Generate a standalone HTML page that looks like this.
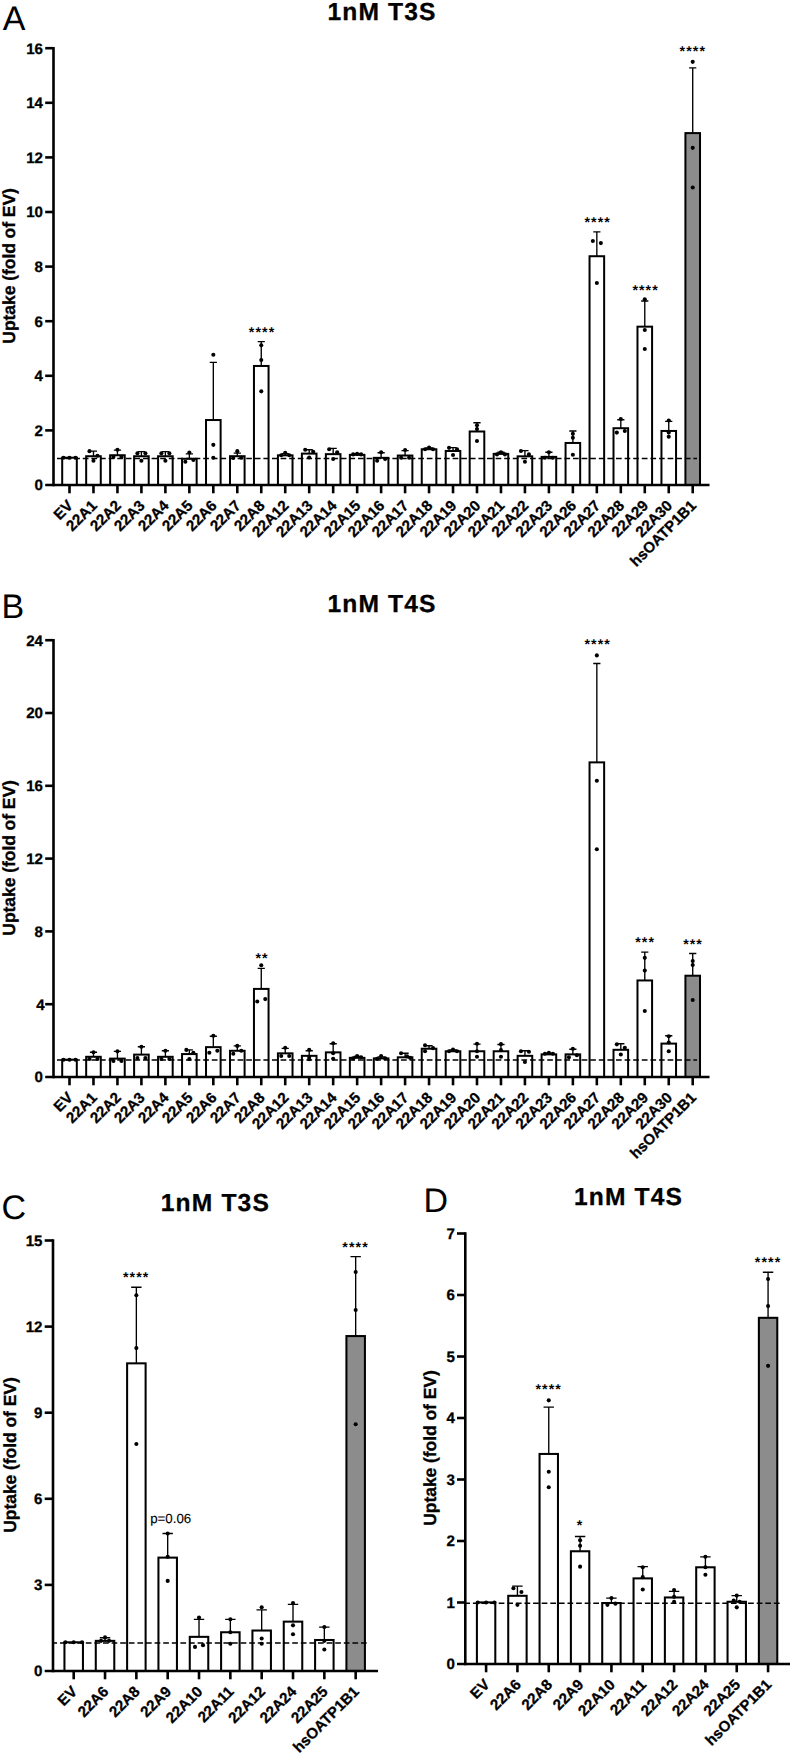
<!DOCTYPE html>
<html lang="en"><head><meta charset="utf-8"><title>Figure</title>
<style>html,body{margin:0;padding:0;background:#fff}body{width:793px;height:1758px;overflow:hidden}svg{display:block}svg text{font-family:"Liberation Sans", Arial, sans-serif;fill:#000;text-rendering:geometricPrecision}.b{font-weight:bold;stroke:#000;stroke-width:.3px}</style></head><body>
<svg width="793" height="1758" viewBox="0 0 793 1758">
<rect width="793" height="1758" fill="#fff"/>
<g>
<rect x="62.2" y="457.7" width="14.6" height="27.3" fill="#fff" stroke="#000" stroke-width="2.0"/>
<rect x="86.17" y="456.23" width="14.6" height="28.77" fill="#fff" stroke="#000" stroke-width="2.0"/>
<path d="M93.47 456.23V451.15M89.87 451.15H97.07" stroke="#000" stroke-width="1.35" fill="none"/>
<rect x="110.14" y="455.24" width="14.6" height="29.76" fill="#fff" stroke="#000" stroke-width="2.0"/>
<path d="M117.44 455.24V450.19M113.84 450.19H121.04" stroke="#000" stroke-width="1.35" fill="none"/>
<rect x="134.11" y="456.23" width="14.6" height="28.77" fill="#fff" stroke="#000" stroke-width="2.0"/>
<path d="M141.41 456.23V451.69M137.81 451.69H145.01" stroke="#000" stroke-width="1.35" fill="none"/>
<rect x="158.08" y="456.23" width="14.6" height="28.77" fill="#fff" stroke="#000" stroke-width="2.0"/>
<path d="M165.38 456.23V451.69M161.78 451.69H168.98" stroke="#000" stroke-width="1.35" fill="none"/>
<rect x="182.05" y="458.79" width="14.6" height="26.21" fill="#fff" stroke="#000" stroke-width="2.0"/>
<path d="M189.35 458.79V453.88M185.75 453.88H192.95" stroke="#000" stroke-width="1.35" fill="none"/>
<rect x="206.02" y="420.03" width="14.6" height="64.97" fill="#fff" stroke="#000" stroke-width="2.0"/>
<path d="M213.32 420.03V362.42M209.72 362.42H216.92" stroke="#000" stroke-width="1.35" fill="none"/>
<rect x="229.99" y="456.2" width="14.6" height="28.8" fill="#fff" stroke="#000" stroke-width="2.0"/>
<path d="M237.29 456.2V453.06M233.69 453.06H240.89" stroke="#000" stroke-width="1.35" fill="none"/>
<rect x="253.96" y="365.97" width="14.6" height="119.03" fill="#fff" stroke="#000" stroke-width="2.0"/>
<path d="M261.26 365.97V341.67M257.66 341.67H264.86" stroke="#000" stroke-width="1.35" fill="none"/>
<rect x="277.93" y="455.32" width="14.6" height="29.68" fill="#fff" stroke="#000" stroke-width="2.0"/>
<path d="M285.23 455.32V453.61M281.63 453.61H288.83" stroke="#000" stroke-width="1.35" fill="none"/>
<rect x="301.9" y="453.61" width="14.6" height="31.39" fill="#fff" stroke="#000" stroke-width="2.0"/>
<path d="M309.2 453.61V449.78M305.6 449.78H312.8" stroke="#000" stroke-width="1.35" fill="none"/>
<rect x="325.87" y="454.15" width="14.6" height="30.85" fill="#fff" stroke="#000" stroke-width="2.0"/>
<path d="M333.17 454.15V448.42M329.57 448.42H336.77" stroke="#000" stroke-width="1.35" fill="none"/>
<rect x="349.84" y="454.83" width="14.6" height="30.17" fill="#fff" stroke="#000" stroke-width="2.0"/>
<path d="M357.14 454.83V453.61M353.54 453.61H360.74" stroke="#000" stroke-width="1.35" fill="none"/>
<rect x="373.81" y="457.84" width="14.6" height="27.16" fill="#fff" stroke="#000" stroke-width="2.0"/>
<path d="M381.11 457.84V452.79M377.51 452.79H384.71" stroke="#000" stroke-width="1.35" fill="none"/>
<rect x="397.78" y="455.52" width="14.6" height="29.48" fill="#fff" stroke="#000" stroke-width="2.0"/>
<path d="M405.08 455.52V450.6M401.48 450.6H408.68" stroke="#000" stroke-width="1.35" fill="none"/>
<rect x="421.75" y="449.24" width="14.6" height="35.76" fill="#fff" stroke="#000" stroke-width="2.0"/>
<path d="M429.05 449.24V447.87M425.45 447.87H432.65" stroke="#000" stroke-width="1.35" fill="none"/>
<rect x="445.72" y="451.01" width="14.6" height="33.99" fill="#fff" stroke="#000" stroke-width="2.0"/>
<path d="M453.02 451.01V447.6M449.42 447.6H456.62" stroke="#000" stroke-width="1.35" fill="none"/>
<rect x="469.69" y="431.49" width="14.6" height="53.51" fill="#fff" stroke="#000" stroke-width="2.0"/>
<path d="M476.99 431.49V422.76M473.39 422.76H480.59" stroke="#000" stroke-width="1.35" fill="none"/>
<rect x="493.66" y="453.88" width="14.6" height="31.12" fill="#fff" stroke="#000" stroke-width="2.0"/>
<path d="M500.96 453.88V452.24M497.36 452.24H504.56" stroke="#000" stroke-width="1.35" fill="none"/>
<rect x="517.63" y="456.33" width="14.6" height="28.67" fill="#fff" stroke="#000" stroke-width="2.0"/>
<path d="M524.93 456.33V450.6M521.33 450.6H528.53" stroke="#000" stroke-width="1.35" fill="none"/>
<rect x="541.6" y="456.88" width="14.6" height="28.12" fill="#fff" stroke="#000" stroke-width="2.0"/>
<path d="M548.9 456.88V452.24M545.3 452.24H552.5" stroke="#000" stroke-width="1.35" fill="none"/>
<rect x="565.57" y="442.96" width="14.6" height="42.04" fill="#fff" stroke="#000" stroke-width="2.0"/>
<path d="M572.87 442.96V430.95M569.27 430.95H576.47" stroke="#000" stroke-width="1.35" fill="none"/>
<rect x="589.54" y="256.23" width="14.6" height="228.77" fill="#fff" stroke="#000" stroke-width="2.0"/>
<path d="M596.84 256.23V231.93M593.24 231.93H600.44" stroke="#000" stroke-width="1.35" fill="none"/>
<rect x="613.51" y="428.22" width="14.6" height="56.78" fill="#fff" stroke="#000" stroke-width="2.0"/>
<path d="M620.81 428.22V419.75M617.21 419.75H624.41" stroke="#000" stroke-width="1.35" fill="none"/>
<rect x="637.48" y="326.66" width="14.6" height="158.34" fill="#fff" stroke="#000" stroke-width="2.0"/>
<path d="M644.78 326.66V301M641.18 301H648.38" stroke="#000" stroke-width="1.35" fill="none"/>
<rect x="661.45" y="430.95" width="14.6" height="54.05" fill="#fff" stroke="#000" stroke-width="2.0"/>
<path d="M668.75 430.95V421.39M665.15 421.39H672.35" stroke="#000" stroke-width="1.35" fill="none"/>
<rect x="685.42" y="133.1" width="14.6" height="351.9" fill="#8c8c8c" stroke="#000" stroke-width="2.0"/>
<path d="M692.72 133.1V67.86M689.12 67.86H696.32" stroke="#000" stroke-width="1.35" fill="none"/>
<line x1="57" y1="458.4" x2="697" y2="458.4" stroke="#000" stroke-width="1.5" stroke-dasharray="5.7 2.9" stroke-dashoffset="0"/>
<circle cx="63.5" cy="457.7" r="2.05"/>
<circle cx="69.5" cy="457.7" r="2.05"/>
<circle cx="75.5" cy="457.7" r="2.05"/>
<circle cx="89.47" cy="451.15" r="2.05"/>
<circle cx="97.47" cy="455.79" r="2.05"/>
<circle cx="93.47" cy="460.7" r="2.05"/>
<circle cx="117.44" cy="449.78" r="2.05"/>
<circle cx="113.44" cy="456.88" r="2.05"/>
<circle cx="121.44" cy="456.88" r="2.05"/>
<circle cx="137.41" cy="453.2" r="2.05"/>
<circle cx="145.41" cy="453.2" r="2.05"/>
<circle cx="141.41" cy="460.7" r="2.05"/>
<circle cx="161.38" cy="453.2" r="2.05"/>
<circle cx="169.38" cy="453.2" r="2.05"/>
<circle cx="165.38" cy="460.7" r="2.05"/>
<circle cx="189.35" cy="452.51" r="2.05"/>
<circle cx="185.35" cy="461.8" r="2.05"/>
<circle cx="193.35" cy="459.88" r="2.05"/>
<circle cx="213.32" cy="354.78" r="2.05"/>
<circle cx="213.32" cy="444.87" r="2.05"/>
<circle cx="213.32" cy="457.7" r="2.05"/>
<circle cx="237.29" cy="451.15" r="2.05"/>
<circle cx="233.29" cy="457.97" r="2.05"/>
<circle cx="241.29" cy="457.7" r="2.05"/>
<circle cx="261.26" cy="345.22" r="2.05"/>
<circle cx="261.26" cy="359.97" r="2.05"/>
<circle cx="261.26" cy="391.36" r="2.05"/>
<circle cx="285.23" cy="452.79" r="2.05"/>
<circle cx="281.23" cy="455.32" r="2.05"/>
<circle cx="289.23" cy="455.32" r="2.05"/>
<circle cx="305.2" cy="449.78" r="2.05"/>
<circle cx="313.2" cy="451.69" r="2.05"/>
<circle cx="309.2" cy="457.43" r="2.05"/>
<circle cx="329.17" cy="449.24" r="2.05"/>
<circle cx="337.17" cy="452.24" r="2.05"/>
<circle cx="333.17" cy="459.06" r="2.05"/>
<circle cx="357.14" cy="453.88" r="2.05"/>
<circle cx="353.14" cy="454.42" r="2.05"/>
<circle cx="361.14" cy="454.42" r="2.05"/>
<circle cx="381.11" cy="452.24" r="2.05"/>
<circle cx="377.11" cy="460.7" r="2.05"/>
<circle cx="385.11" cy="459.06" r="2.05"/>
<circle cx="405.08" cy="450.06" r="2.05"/>
<circle cx="401.08" cy="457.7" r="2.05"/>
<circle cx="409.08" cy="457.7" r="2.05"/>
<circle cx="429.05" cy="447.6" r="2.05"/>
<circle cx="425.05" cy="449.24" r="2.05"/>
<circle cx="433.05" cy="449.24" r="2.05"/>
<circle cx="449.02" cy="447.87" r="2.05"/>
<circle cx="457.02" cy="449.24" r="2.05"/>
<circle cx="453.02" cy="454.97" r="2.05"/>
<circle cx="476.99" cy="425.21" r="2.05"/>
<circle cx="476.99" cy="429.04" r="2.05"/>
<circle cx="476.99" cy="441.05" r="2.05"/>
<circle cx="500.96" cy="452.24" r="2.05"/>
<circle cx="496.96" cy="454.42" r="2.05"/>
<circle cx="504.96" cy="454.42" r="2.05"/>
<circle cx="520.93" cy="451.01" r="2.05"/>
<circle cx="528.93" cy="454.42" r="2.05"/>
<circle cx="524.93" cy="461.8" r="2.05"/>
<circle cx="548.9" cy="452.24" r="2.05"/>
<circle cx="544.9" cy="457.7" r="2.05"/>
<circle cx="552.9" cy="457.7" r="2.05"/>
<circle cx="572.87" cy="433.68" r="2.05"/>
<circle cx="572.87" cy="437.77" r="2.05"/>
<circle cx="572.87" cy="454.7" r="2.05"/>
<circle cx="592.84" cy="240.94" r="2.05"/>
<circle cx="600.84" cy="243.12" r="2.05"/>
<circle cx="596.84" cy="282.98" r="2.05"/>
<circle cx="620.81" cy="418.93" r="2.05"/>
<circle cx="616.81" cy="432.58" r="2.05"/>
<circle cx="624.81" cy="430.95" r="2.05"/>
<circle cx="644.78" cy="299.36" r="2.05"/>
<circle cx="644.78" cy="329.94" r="2.05"/>
<circle cx="644.78" cy="349.05" r="2.05"/>
<circle cx="668.75" cy="420.57" r="2.05"/>
<circle cx="668.75" cy="432.58" r="2.05"/>
<circle cx="668.75" cy="436.68" r="2.05"/>
<circle cx="692.72" cy="61.85" r="2.05"/>
<circle cx="692.72" cy="147.85" r="2.05"/>
<circle cx="692.72" cy="187.43" r="2.05"/>
<path d="M53.5 46.9V486.3" stroke="#000" stroke-width="2.6" fill="none"/>
<path d="M45.2 485H709.5" stroke="#000" stroke-width="2.6" fill="none"/>
<text x="43" y="490.41" text-anchor="end" font-size="15.1" class="b">0</text>
<path d="M45.2 430.4H53.5" stroke="#000" stroke-width="2.6"/>
<text x="43" y="435.81" text-anchor="end" font-size="15.1" class="b">2</text>
<path d="M45.2 375.8H53.5" stroke="#000" stroke-width="2.6"/>
<text x="43" y="381.21" text-anchor="end" font-size="15.1" class="b">4</text>
<path d="M45.2 321.2H53.5" stroke="#000" stroke-width="2.6"/>
<text x="43" y="326.61" text-anchor="end" font-size="15.1" class="b">6</text>
<path d="M45.2 266.6H53.5" stroke="#000" stroke-width="2.6"/>
<text x="43" y="272.01" text-anchor="end" font-size="15.1" class="b">8</text>
<path d="M45.2 212H53.5" stroke="#000" stroke-width="2.6"/>
<text x="43" y="217.41" text-anchor="end" font-size="15.1" class="b">10</text>
<path d="M45.2 157.4H53.5" stroke="#000" stroke-width="2.6"/>
<text x="43" y="162.81" text-anchor="end" font-size="15.1" class="b">12</text>
<path d="M45.2 102.8H53.5" stroke="#000" stroke-width="2.6"/>
<text x="43" y="108.21" text-anchor="end" font-size="15.1" class="b">14</text>
<path d="M45.2 48.2H53.5" stroke="#000" stroke-width="2.6"/>
<text x="43" y="53.61" text-anchor="end" font-size="15.1" class="b">16</text>
<path d="M69.5 485V493.3" stroke="#000" stroke-width="2.6"/>
<text transform="translate(73.9 506.5) rotate(-45)" text-anchor="end" font-size="15.1" class="b">EV</text>
<path d="M93.47 485V493.3" stroke="#000" stroke-width="2.6"/>
<text transform="translate(97.87 506.5) rotate(-45)" text-anchor="end" font-size="15.1" class="b">22A1</text>
<path d="M117.44 485V493.3" stroke="#000" stroke-width="2.6"/>
<text transform="translate(121.84 506.5) rotate(-45)" text-anchor="end" font-size="15.1" class="b">22A2</text>
<path d="M141.41 485V493.3" stroke="#000" stroke-width="2.6"/>
<text transform="translate(145.81 506.5) rotate(-45)" text-anchor="end" font-size="15.1" class="b">22A3</text>
<path d="M165.38 485V493.3" stroke="#000" stroke-width="2.6"/>
<text transform="translate(169.78 506.5) rotate(-45)" text-anchor="end" font-size="15.1" class="b">22A4</text>
<path d="M189.35 485V493.3" stroke="#000" stroke-width="2.6"/>
<text transform="translate(193.75 506.5) rotate(-45)" text-anchor="end" font-size="15.1" class="b">22A5</text>
<path d="M213.32 485V493.3" stroke="#000" stroke-width="2.6"/>
<text transform="translate(217.72 506.5) rotate(-45)" text-anchor="end" font-size="15.1" class="b">22A6</text>
<path d="M237.29 485V493.3" stroke="#000" stroke-width="2.6"/>
<text transform="translate(241.69 506.5) rotate(-45)" text-anchor="end" font-size="15.1" class="b">22A7</text>
<path d="M261.26 485V493.3" stroke="#000" stroke-width="2.6"/>
<text transform="translate(265.66 506.5) rotate(-45)" text-anchor="end" font-size="15.1" class="b">22A8</text>
<path d="M285.23 485V493.3" stroke="#000" stroke-width="2.6"/>
<text transform="translate(289.63 506.5) rotate(-45)" text-anchor="end" font-size="15.1" class="b">22A12</text>
<path d="M309.2 485V493.3" stroke="#000" stroke-width="2.6"/>
<text transform="translate(313.6 506.5) rotate(-45)" text-anchor="end" font-size="15.1" class="b">22A13</text>
<path d="M333.17 485V493.3" stroke="#000" stroke-width="2.6"/>
<text transform="translate(337.57 506.5) rotate(-45)" text-anchor="end" font-size="15.1" class="b">22A14</text>
<path d="M357.14 485V493.3" stroke="#000" stroke-width="2.6"/>
<text transform="translate(361.54 506.5) rotate(-45)" text-anchor="end" font-size="15.1" class="b">22A15</text>
<path d="M381.11 485V493.3" stroke="#000" stroke-width="2.6"/>
<text transform="translate(385.51 506.5) rotate(-45)" text-anchor="end" font-size="15.1" class="b">22A16</text>
<path d="M405.08 485V493.3" stroke="#000" stroke-width="2.6"/>
<text transform="translate(409.48 506.5) rotate(-45)" text-anchor="end" font-size="15.1" class="b">22A17</text>
<path d="M429.05 485V493.3" stroke="#000" stroke-width="2.6"/>
<text transform="translate(433.45 506.5) rotate(-45)" text-anchor="end" font-size="15.1" class="b">22A18</text>
<path d="M453.02 485V493.3" stroke="#000" stroke-width="2.6"/>
<text transform="translate(457.42 506.5) rotate(-45)" text-anchor="end" font-size="15.1" class="b">22A19</text>
<path d="M476.99 485V493.3" stroke="#000" stroke-width="2.6"/>
<text transform="translate(481.39 506.5) rotate(-45)" text-anchor="end" font-size="15.1" class="b">22A20</text>
<path d="M500.96 485V493.3" stroke="#000" stroke-width="2.6"/>
<text transform="translate(505.36 506.5) rotate(-45)" text-anchor="end" font-size="15.1" class="b">22A21</text>
<path d="M524.93 485V493.3" stroke="#000" stroke-width="2.6"/>
<text transform="translate(529.33 506.5) rotate(-45)" text-anchor="end" font-size="15.1" class="b">22A22</text>
<path d="M548.9 485V493.3" stroke="#000" stroke-width="2.6"/>
<text transform="translate(553.3 506.5) rotate(-45)" text-anchor="end" font-size="15.1" class="b">22A23</text>
<path d="M572.87 485V493.3" stroke="#000" stroke-width="2.6"/>
<text transform="translate(577.27 506.5) rotate(-45)" text-anchor="end" font-size="15.1" class="b">22A26</text>
<path d="M596.84 485V493.3" stroke="#000" stroke-width="2.6"/>
<text transform="translate(601.24 506.5) rotate(-45)" text-anchor="end" font-size="15.1" class="b">22A27</text>
<path d="M620.81 485V493.3" stroke="#000" stroke-width="2.6"/>
<text transform="translate(625.21 506.5) rotate(-45)" text-anchor="end" font-size="15.1" class="b">22A28</text>
<path d="M644.78 485V493.3" stroke="#000" stroke-width="2.6"/>
<text transform="translate(649.18 506.5) rotate(-45)" text-anchor="end" font-size="15.1" class="b">22A29</text>
<path d="M668.75 485V493.3" stroke="#000" stroke-width="2.6"/>
<text transform="translate(673.15 506.5) rotate(-45)" text-anchor="end" font-size="15.1" class="b">22A30</text>
<path d="M692.72 485V493.3" stroke="#000" stroke-width="2.6"/>
<text transform="translate(697.12 506.5) rotate(-45)" text-anchor="end" font-size="15.1" class="b">hsOATP1B1</text>
<text transform="translate(15.4 265.85) rotate(-90)" text-anchor="middle" font-size="17.6" class="b" textLength="155.6" lengthAdjust="spacing">Uptake (fold of EV)</text>
<text x="381.5" y="19.8" text-anchor="middle" font-size="24.6" class="b" textLength="108" lengthAdjust="spacing">1nM T3S</text>
<text x="2.8" y="30.1" font-size="34">A</text>
<text x="262.11" y="337.1" text-anchor="middle" font-size="14.2" font-weight="bold" letter-spacing="1.1">****</text>
<text x="597.69" y="226.5" text-anchor="middle" font-size="14.2" font-weight="bold" letter-spacing="1.1">****</text>
<text x="645.63" y="295" text-anchor="middle" font-size="14.2" font-weight="bold" letter-spacing="1.1">****</text>
<text x="692.87" y="56.3" text-anchor="middle" font-size="14.2" font-weight="bold" letter-spacing="1.1">****</text>
</g>
<g>
<rect x="62.2" y="1059.71" width="14.6" height="17.29" fill="#fff" stroke="#000" stroke-width="2.0"/>
<rect x="86.17" y="1056.8" width="14.6" height="20.2" fill="#fff" stroke="#000" stroke-width="2.0"/>
<path d="M93.47 1056.8V1052.25M89.87 1052.25H97.07" stroke="#000" stroke-width="1.35" fill="none"/>
<rect x="110.14" y="1058.62" width="14.6" height="18.38" fill="#fff" stroke="#000" stroke-width="2.0"/>
<path d="M117.44 1058.62V1051.34M113.84 1051.34H121.04" stroke="#000" stroke-width="1.35" fill="none"/>
<rect x="134.11" y="1054.61" width="14.6" height="22.39" fill="#fff" stroke="#000" stroke-width="2.0"/>
<path d="M141.41 1054.61V1046.79M137.81 1046.79H145.01" stroke="#000" stroke-width="1.35" fill="none"/>
<rect x="158.08" y="1056.8" width="14.6" height="20.2" fill="#fff" stroke="#000" stroke-width="2.0"/>
<path d="M165.38 1056.8V1050.79M161.78 1050.79H168.98" stroke="#000" stroke-width="1.35" fill="none"/>
<rect x="182.05" y="1054.07" width="14.6" height="22.93" fill="#fff" stroke="#000" stroke-width="2.0"/>
<path d="M189.35 1054.07V1049.88M185.75 1049.88H192.95" stroke="#000" stroke-width="1.35" fill="none"/>
<rect x="206.02" y="1047.15" width="14.6" height="29.85" fill="#fff" stroke="#000" stroke-width="2.0"/>
<path d="M213.32 1047.15V1036.23M209.72 1036.23H216.92" stroke="#000" stroke-width="1.35" fill="none"/>
<rect x="229.99" y="1050.79" width="14.6" height="26.21" fill="#fff" stroke="#000" stroke-width="2.0"/>
<path d="M237.29 1050.79V1045.88M233.69 1045.88H240.89" stroke="#000" stroke-width="1.35" fill="none"/>
<rect x="253.96" y="988.91" width="14.6" height="88.09" fill="#fff" stroke="#000" stroke-width="2.0"/>
<path d="M261.26 988.91V968.35M257.66 968.35H264.86" stroke="#000" stroke-width="1.35" fill="none"/>
<rect x="277.93" y="1053.34" width="14.6" height="23.66" fill="#fff" stroke="#000" stroke-width="2.0"/>
<path d="M285.23 1053.34V1048.43M281.63 1048.43H288.83" stroke="#000" stroke-width="1.35" fill="none"/>
<rect x="301.9" y="1055.83" width="14.6" height="21.17" fill="#fff" stroke="#000" stroke-width="2.0"/>
<path d="M309.2 1055.83V1050.72M305.6 1050.72H312.8" stroke="#000" stroke-width="1.35" fill="none"/>
<rect x="325.87" y="1052.36" width="14.6" height="24.64" fill="#fff" stroke="#000" stroke-width="2.0"/>
<path d="M333.17 1052.36V1043.79M329.57 1043.79H336.77" stroke="#000" stroke-width="1.35" fill="none"/>
<rect x="349.84" y="1057.84" width="14.6" height="19.16" fill="#fff" stroke="#000" stroke-width="2.0"/>
<path d="M357.14 1057.84V1056.38M353.54 1056.38H360.74" stroke="#000" stroke-width="1.35" fill="none"/>
<rect x="373.81" y="1058.38" width="14.6" height="18.62" fill="#fff" stroke="#000" stroke-width="2.0"/>
<path d="M381.11 1058.38V1056.92M377.51 1056.92H384.71" stroke="#000" stroke-width="1.35" fill="none"/>
<rect x="397.78" y="1057.29" width="14.6" height="19.71" fill="#fff" stroke="#000" stroke-width="2.0"/>
<path d="M405.08 1057.29V1053.28M401.48 1053.28H408.68" stroke="#000" stroke-width="1.35" fill="none"/>
<rect x="421.75" y="1048.71" width="14.6" height="28.29" fill="#fff" stroke="#000" stroke-width="2.0"/>
<path d="M429.05 1048.71V1045.79M425.45 1045.79H432.65" stroke="#000" stroke-width="1.35" fill="none"/>
<rect x="445.72" y="1051.27" width="14.6" height="25.73" fill="#fff" stroke="#000" stroke-width="2.0"/>
<path d="M453.02 1051.27V1049.81M449.42 1049.81H456.62" stroke="#000" stroke-width="1.35" fill="none"/>
<rect x="469.69" y="1051.27" width="14.6" height="25.73" fill="#fff" stroke="#000" stroke-width="2.0"/>
<path d="M476.99 1051.27V1044.15M473.39 1044.15H480.59" stroke="#000" stroke-width="1.35" fill="none"/>
<rect x="493.66" y="1051.27" width="14.6" height="25.73" fill="#fff" stroke="#000" stroke-width="2.0"/>
<path d="M500.96 1051.27V1044.52M497.36 1044.52H504.56" stroke="#000" stroke-width="1.35" fill="none"/>
<rect x="517.63" y="1055.83" width="14.6" height="21.17" fill="#fff" stroke="#000" stroke-width="2.0"/>
<path d="M524.93 1055.83V1050.72M521.33 1050.72H528.53" stroke="#000" stroke-width="1.35" fill="none"/>
<rect x="541.6" y="1054.37" width="14.6" height="22.63" fill="#fff" stroke="#000" stroke-width="2.0"/>
<path d="M548.9 1054.37V1053.28M545.3 1053.28H552.5" stroke="#000" stroke-width="1.35" fill="none"/>
<rect x="565.57" y="1054.37" width="14.6" height="22.63" fill="#fff" stroke="#000" stroke-width="2.0"/>
<path d="M572.87 1054.37V1049.26M569.27 1049.26H576.47" stroke="#000" stroke-width="1.35" fill="none"/>
<rect x="589.54" y="762.37" width="14.6" height="314.63" fill="#fff" stroke="#000" stroke-width="2.0"/>
<path d="M596.84 762.37V663.46M593.24 663.46H600.44" stroke="#000" stroke-width="1.35" fill="none"/>
<rect x="613.51" y="1049.81" width="14.6" height="27.19" fill="#fff" stroke="#000" stroke-width="2.0"/>
<path d="M620.81 1049.81V1043.79M617.21 1043.79H624.41" stroke="#000" stroke-width="1.35" fill="none"/>
<rect x="637.48" y="980.46" width="14.6" height="96.54" fill="#fff" stroke="#000" stroke-width="2.0"/>
<path d="M644.78 980.46V952.17M641.18 952.17H648.38" stroke="#000" stroke-width="1.35" fill="none"/>
<rect x="661.45" y="1043.6" width="14.6" height="33.4" fill="#fff" stroke="#000" stroke-width="2.0"/>
<path d="M668.75 1043.6V1035.76M665.15 1035.76H672.35" stroke="#000" stroke-width="1.35" fill="none"/>
<rect x="685.42" y="975.71" width="14.6" height="101.29" fill="#8c8c8c" stroke="#000" stroke-width="2.0"/>
<path d="M692.72 975.71V953.45M689.12 953.45H696.32" stroke="#000" stroke-width="1.35" fill="none"/>
<line x1="57" y1="1060" x2="697" y2="1060" stroke="#000" stroke-width="1.5" stroke-dasharray="5.7 2.9" stroke-dashoffset="0"/>
<circle cx="63.5" cy="1059.71" r="2.05"/>
<circle cx="69.5" cy="1059.71" r="2.05"/>
<circle cx="75.5" cy="1059.71" r="2.05"/>
<circle cx="93.47" cy="1052.25" r="2.05"/>
<circle cx="89.47" cy="1058.98" r="2.05"/>
<circle cx="97.47" cy="1058.98" r="2.05"/>
<circle cx="117.44" cy="1051.34" r="2.05"/>
<circle cx="113.44" cy="1060.98" r="2.05"/>
<circle cx="121.44" cy="1060.98" r="2.05"/>
<circle cx="141.41" cy="1046.79" r="2.05"/>
<circle cx="137.41" cy="1058.07" r="2.05"/>
<circle cx="145.41" cy="1058.07" r="2.05"/>
<circle cx="165.38" cy="1050.79" r="2.05"/>
<circle cx="161.38" cy="1058.98" r="2.05"/>
<circle cx="169.38" cy="1058.98" r="2.05"/>
<circle cx="186.35" cy="1049.88" r="2.05"/>
<circle cx="193.35" cy="1052.79" r="2.05"/>
<circle cx="189.35" cy="1058.98" r="2.05"/>
<circle cx="213.32" cy="1035.69" r="2.05"/>
<circle cx="209.32" cy="1052.79" r="2.05"/>
<circle cx="217.32" cy="1050.79" r="2.05"/>
<circle cx="237.29" cy="1045.88" r="2.05"/>
<circle cx="233.29" cy="1053.7" r="2.05"/>
<circle cx="241.29" cy="1050.79" r="2.05"/>
<circle cx="261.26" cy="965.25" r="2.05"/>
<circle cx="257.26" cy="1001.47" r="2.05"/>
<circle cx="265.26" cy="999.1" r="2.05"/>
<circle cx="285.23" cy="1047.7" r="2.05"/>
<circle cx="281.23" cy="1056.07" r="2.05"/>
<circle cx="289.23" cy="1056.07" r="2.05"/>
<circle cx="309.2" cy="1049.81" r="2.05"/>
<circle cx="309.2" cy="1056.92" r="2.05"/>
<circle cx="309.2" cy="1059.3" r="2.05"/>
<circle cx="333.17" cy="1043.24" r="2.05"/>
<circle cx="333.17" cy="1053.28" r="2.05"/>
<circle cx="333.17" cy="1058.75" r="2.05"/>
<circle cx="357.14" cy="1056.01" r="2.05"/>
<circle cx="353.14" cy="1058.38" r="2.05"/>
<circle cx="361.14" cy="1057.29" r="2.05"/>
<circle cx="381.11" cy="1056.01" r="2.05"/>
<circle cx="377.11" cy="1058.75" r="2.05"/>
<circle cx="385.11" cy="1058.2" r="2.05"/>
<circle cx="401.08" cy="1053.28" r="2.05"/>
<circle cx="407.08" cy="1056.38" r="2.05"/>
<circle cx="410.08" cy="1057.84" r="2.05"/>
<circle cx="425.05" cy="1045.24" r="2.05"/>
<circle cx="433.05" cy="1048.16" r="2.05"/>
<circle cx="425.05" cy="1051.27" r="2.05"/>
<circle cx="453.02" cy="1049.62" r="2.05"/>
<circle cx="449.02" cy="1051.27" r="2.05"/>
<circle cx="457.02" cy="1051.27" r="2.05"/>
<circle cx="476.99" cy="1043.79" r="2.05"/>
<circle cx="476.99" cy="1051.27" r="2.05"/>
<circle cx="476.99" cy="1056.74" r="2.05"/>
<circle cx="500.96" cy="1044.15" r="2.05"/>
<circle cx="500.96" cy="1050.17" r="2.05"/>
<circle cx="500.96" cy="1056.74" r="2.05"/>
<circle cx="520.93" cy="1051.27" r="2.05"/>
<circle cx="528.93" cy="1051.82" r="2.05"/>
<circle cx="524.93" cy="1062.04" r="2.05"/>
<circle cx="548.9" cy="1052.91" r="2.05"/>
<circle cx="544.9" cy="1053.82" r="2.05"/>
<circle cx="552.9" cy="1053.82" r="2.05"/>
<circle cx="572.87" cy="1048.71" r="2.05"/>
<circle cx="568.87" cy="1057.29" r="2.05"/>
<circle cx="576.87" cy="1055.28" r="2.05"/>
<circle cx="596.84" cy="655.42" r="2.05"/>
<circle cx="596.84" cy="780.8" r="2.05"/>
<circle cx="596.84" cy="849.24" r="2.05"/>
<circle cx="616.81" cy="1044.33" r="2.05"/>
<circle cx="624.81" cy="1047.8" r="2.05"/>
<circle cx="620.81" cy="1054.55" r="2.05"/>
<circle cx="644.78" cy="957.83" r="2.05"/>
<circle cx="644.78" cy="970.6" r="2.05"/>
<circle cx="644.78" cy="1010.93" r="2.05"/>
<circle cx="668.75" cy="1036.3" r="2.05"/>
<circle cx="668.75" cy="1042.51" r="2.05"/>
<circle cx="668.75" cy="1051.27" r="2.05"/>
<circle cx="692.72" cy="960.93" r="2.05"/>
<circle cx="692.72" cy="964.95" r="2.05"/>
<circle cx="692.72" cy="999.99" r="2.05"/>
<path d="M53.5 638.9V1078.3" stroke="#000" stroke-width="2.6" fill="none"/>
<path d="M45.2 1077H709.5" stroke="#000" stroke-width="2.6" fill="none"/>
<text x="43" y="1082.41" text-anchor="end" font-size="15.1" class="b">0</text>
<path d="M45.2 1004.2H53.5" stroke="#000" stroke-width="2.6"/>
<text x="44.7" y="1009.61" text-anchor="end" font-size="15.1" class="b">4</text>
<path d="M45.2 931.4H53.5" stroke="#000" stroke-width="2.6"/>
<text x="43" y="936.81" text-anchor="end" font-size="15.1" class="b">8</text>
<path d="M45.2 858.6H53.5" stroke="#000" stroke-width="2.6"/>
<text x="43" y="864.01" text-anchor="end" font-size="15.1" class="b">12</text>
<path d="M45.2 785.8H53.5" stroke="#000" stroke-width="2.6"/>
<text x="43" y="791.21" text-anchor="end" font-size="15.1" class="b">16</text>
<path d="M45.2 713H53.5" stroke="#000" stroke-width="2.6"/>
<text x="43" y="718.41" text-anchor="end" font-size="15.1" class="b">20</text>
<path d="M45.2 640.2H53.5" stroke="#000" stroke-width="2.6"/>
<text x="43" y="645.61" text-anchor="end" font-size="15.1" class="b">24</text>
<path d="M69.5 1077V1085.3" stroke="#000" stroke-width="2.6"/>
<text transform="translate(73.9 1098.5) rotate(-45)" text-anchor="end" font-size="15.1" class="b">EV</text>
<path d="M93.47 1077V1085.3" stroke="#000" stroke-width="2.6"/>
<text transform="translate(97.87 1098.5) rotate(-45)" text-anchor="end" font-size="15.1" class="b">22A1</text>
<path d="M117.44 1077V1085.3" stroke="#000" stroke-width="2.6"/>
<text transform="translate(121.84 1098.5) rotate(-45)" text-anchor="end" font-size="15.1" class="b">22A2</text>
<path d="M141.41 1077V1085.3" stroke="#000" stroke-width="2.6"/>
<text transform="translate(145.81 1098.5) rotate(-45)" text-anchor="end" font-size="15.1" class="b">22A3</text>
<path d="M165.38 1077V1085.3" stroke="#000" stroke-width="2.6"/>
<text transform="translate(169.78 1098.5) rotate(-45)" text-anchor="end" font-size="15.1" class="b">22A4</text>
<path d="M189.35 1077V1085.3" stroke="#000" stroke-width="2.6"/>
<text transform="translate(193.75 1098.5) rotate(-45)" text-anchor="end" font-size="15.1" class="b">22A5</text>
<path d="M213.32 1077V1085.3" stroke="#000" stroke-width="2.6"/>
<text transform="translate(217.72 1098.5) rotate(-45)" text-anchor="end" font-size="15.1" class="b">22A6</text>
<path d="M237.29 1077V1085.3" stroke="#000" stroke-width="2.6"/>
<text transform="translate(241.69 1098.5) rotate(-45)" text-anchor="end" font-size="15.1" class="b">22A7</text>
<path d="M261.26 1077V1085.3" stroke="#000" stroke-width="2.6"/>
<text transform="translate(265.66 1098.5) rotate(-45)" text-anchor="end" font-size="15.1" class="b">22A8</text>
<path d="M285.23 1077V1085.3" stroke="#000" stroke-width="2.6"/>
<text transform="translate(289.63 1098.5) rotate(-45)" text-anchor="end" font-size="15.1" class="b">22A12</text>
<path d="M309.2 1077V1085.3" stroke="#000" stroke-width="2.6"/>
<text transform="translate(313.6 1098.5) rotate(-45)" text-anchor="end" font-size="15.1" class="b">22A13</text>
<path d="M333.17 1077V1085.3" stroke="#000" stroke-width="2.6"/>
<text transform="translate(337.57 1098.5) rotate(-45)" text-anchor="end" font-size="15.1" class="b">22A14</text>
<path d="M357.14 1077V1085.3" stroke="#000" stroke-width="2.6"/>
<text transform="translate(361.54 1098.5) rotate(-45)" text-anchor="end" font-size="15.1" class="b">22A15</text>
<path d="M381.11 1077V1085.3" stroke="#000" stroke-width="2.6"/>
<text transform="translate(385.51 1098.5) rotate(-45)" text-anchor="end" font-size="15.1" class="b">22A16</text>
<path d="M405.08 1077V1085.3" stroke="#000" stroke-width="2.6"/>
<text transform="translate(409.48 1098.5) rotate(-45)" text-anchor="end" font-size="15.1" class="b">22A17</text>
<path d="M429.05 1077V1085.3" stroke="#000" stroke-width="2.6"/>
<text transform="translate(433.45 1098.5) rotate(-45)" text-anchor="end" font-size="15.1" class="b">22A18</text>
<path d="M453.02 1077V1085.3" stroke="#000" stroke-width="2.6"/>
<text transform="translate(457.42 1098.5) rotate(-45)" text-anchor="end" font-size="15.1" class="b">22A19</text>
<path d="M476.99 1077V1085.3" stroke="#000" stroke-width="2.6"/>
<text transform="translate(481.39 1098.5) rotate(-45)" text-anchor="end" font-size="15.1" class="b">22A20</text>
<path d="M500.96 1077V1085.3" stroke="#000" stroke-width="2.6"/>
<text transform="translate(505.36 1098.5) rotate(-45)" text-anchor="end" font-size="15.1" class="b">22A21</text>
<path d="M524.93 1077V1085.3" stroke="#000" stroke-width="2.6"/>
<text transform="translate(529.33 1098.5) rotate(-45)" text-anchor="end" font-size="15.1" class="b">22A22</text>
<path d="M548.9 1077V1085.3" stroke="#000" stroke-width="2.6"/>
<text transform="translate(553.3 1098.5) rotate(-45)" text-anchor="end" font-size="15.1" class="b">22A23</text>
<path d="M572.87 1077V1085.3" stroke="#000" stroke-width="2.6"/>
<text transform="translate(577.27 1098.5) rotate(-45)" text-anchor="end" font-size="15.1" class="b">22A26</text>
<path d="M596.84 1077V1085.3" stroke="#000" stroke-width="2.6"/>
<text transform="translate(601.24 1098.5) rotate(-45)" text-anchor="end" font-size="15.1" class="b">22A27</text>
<path d="M620.81 1077V1085.3" stroke="#000" stroke-width="2.6"/>
<text transform="translate(625.21 1098.5) rotate(-45)" text-anchor="end" font-size="15.1" class="b">22A28</text>
<path d="M644.78 1077V1085.3" stroke="#000" stroke-width="2.6"/>
<text transform="translate(649.18 1098.5) rotate(-45)" text-anchor="end" font-size="15.1" class="b">22A29</text>
<path d="M668.75 1077V1085.3" stroke="#000" stroke-width="2.6"/>
<text transform="translate(673.15 1098.5) rotate(-45)" text-anchor="end" font-size="15.1" class="b">22A30</text>
<path d="M692.72 1077V1085.3" stroke="#000" stroke-width="2.6"/>
<text transform="translate(697.12 1098.5) rotate(-45)" text-anchor="end" font-size="15.1" class="b">hsOATP1B1</text>
<text transform="translate(15.4 857.85) rotate(-90)" text-anchor="middle" font-size="17.6" class="b" textLength="155.6" lengthAdjust="spacing">Uptake (fold of EV)</text>
<text x="381.5" y="612" text-anchor="middle" font-size="24.6" class="b" textLength="108" lengthAdjust="spacing">1nM T4S</text>
<text x="1.5" y="617.8" font-size="34">B</text>
<text x="262.11" y="963.1" text-anchor="middle" font-size="14.2" font-weight="bold" letter-spacing="1.1">**</text>
<text x="597.69" y="648.5" text-anchor="middle" font-size="14.2" font-weight="bold" letter-spacing="1.1">****</text>
<text x="645.13" y="947.3" text-anchor="middle" font-size="14.2" font-weight="bold" letter-spacing="1.1">***</text>
<text x="693.07" y="948.6" text-anchor="middle" font-size="14.2" font-weight="bold" letter-spacing="1.1">***</text>
</g>
<g>
<rect x="64.45" y="1642.3" width="18.5" height="28.7" fill="#fff" stroke="#000" stroke-width="2.05"/>
<rect x="95.78" y="1640.87" width="18.5" height="30.13" fill="#fff" stroke="#000" stroke-width="2.05"/>
<path d="M105.03 1640.87V1637.71M99.83 1637.71H110.23" stroke="#000" stroke-width="1.35" fill="none"/>
<rect x="127.11" y="1363.34" width="18.5" height="307.66" fill="#fff" stroke="#000" stroke-width="2.05"/>
<path d="M136.36 1363.34V1287.28M131.16 1287.28H141.56" stroke="#000" stroke-width="1.35" fill="none"/>
<rect x="158.44" y="1557.63" width="18.5" height="113.37" fill="#fff" stroke="#000" stroke-width="2.05"/>
<path d="M167.69 1557.63V1533.53M162.49 1533.53H172.89" stroke="#000" stroke-width="1.35" fill="none"/>
<rect x="189.77" y="1636.85" width="18.5" height="34.15" fill="#fff" stroke="#000" stroke-width="2.05"/>
<path d="M199.02 1636.85V1619.34M193.82 1619.34H204.22" stroke="#000" stroke-width="1.35" fill="none"/>
<rect x="221.1" y="1632.26" width="18.5" height="38.74" fill="#fff" stroke="#000" stroke-width="2.05"/>
<path d="M230.35 1632.26V1619.34M225.15 1619.34H235.55" stroke="#000" stroke-width="1.35" fill="none"/>
<rect x="252.43" y="1630.53" width="18.5" height="40.47" fill="#fff" stroke="#000" stroke-width="2.05"/>
<path d="M261.68 1630.53V1609.87M256.48 1609.87H266.88" stroke="#000" stroke-width="1.35" fill="none"/>
<rect x="283.76" y="1621.64" width="18.5" height="49.36" fill="#fff" stroke="#000" stroke-width="2.05"/>
<path d="M293.01 1621.64V1604.42M287.81 1604.42H298.21" stroke="#000" stroke-width="1.35" fill="none"/>
<rect x="315.09" y="1640" width="18.5" height="31" fill="#fff" stroke="#000" stroke-width="2.05"/>
<path d="M324.34 1640V1627.09M319.14 1627.09H329.54" stroke="#000" stroke-width="1.35" fill="none"/>
<rect x="346.42" y="1336.07" width="18.5" height="334.93" fill="#8c8c8c" stroke="#000" stroke-width="2.05"/>
<path d="M355.67 1336.07V1256.57M350.47 1256.57H360.87" stroke="#000" stroke-width="1.35" fill="none"/>
<line x1="54" y1="1643" x2="369" y2="1643" stroke="#000" stroke-width="1.5" stroke-dasharray="5.7 2.9" stroke-dashoffset="2.6"/>
<circle cx="65.4" cy="1642.3" r="2.05"/>
<circle cx="73.7" cy="1642.3" r="2.05"/>
<circle cx="82" cy="1642.3" r="2.05"/>
<circle cx="105.03" cy="1637.42" r="2.05"/>
<circle cx="101.03" cy="1640.87" r="2.05"/>
<circle cx="109.03" cy="1640.87" r="2.05"/>
<circle cx="136.36" cy="1295.32" r="2.05"/>
<circle cx="136.36" cy="1348.12" r="2.05"/>
<circle cx="136.36" cy="1443.98" r="2.05"/>
<circle cx="167.69" cy="1533.53" r="2.05"/>
<circle cx="167.69" cy="1556.77" r="2.05"/>
<circle cx="167.69" cy="1580.88" r="2.05"/>
<circle cx="199.02" cy="1617.62" r="2.05"/>
<circle cx="195.02" cy="1646.89" r="2.05"/>
<circle cx="203.02" cy="1645.17" r="2.05"/>
<circle cx="230.35" cy="1619.34" r="2.05"/>
<circle cx="230.35" cy="1632.26" r="2.05"/>
<circle cx="230.35" cy="1643.73" r="2.05"/>
<circle cx="261.68" cy="1607.29" r="2.05"/>
<circle cx="261.68" cy="1638.57" r="2.05"/>
<circle cx="261.68" cy="1643.73" r="2.05"/>
<circle cx="293.01" cy="1602.98" r="2.05"/>
<circle cx="293.01" cy="1625.37" r="2.05"/>
<circle cx="293.01" cy="1634.26" r="2.05"/>
<circle cx="324.34" cy="1627.09" r="2.05"/>
<circle cx="324.34" cy="1640.87" r="2.05"/>
<circle cx="324.34" cy="1649.47" r="2.05"/>
<circle cx="355.67" cy="1272.07" r="2.05"/>
<circle cx="355.67" cy="1309.95" r="2.05"/>
<circle cx="355.67" cy="1424.18" r="2.05"/>
<path d="M53 1239.2V1672.3" stroke="#000" stroke-width="2.6" fill="none"/>
<path d="M44.7 1671H378" stroke="#000" stroke-width="2.6" fill="none"/>
<text x="42.5" y="1676.41" text-anchor="end" font-size="15.1" class="b">0</text>
<path d="M44.7 1584.9H53" stroke="#000" stroke-width="2.6"/>
<text x="42.5" y="1590.31" text-anchor="end" font-size="15.1" class="b">3</text>
<path d="M44.7 1498.8H53" stroke="#000" stroke-width="2.6"/>
<text x="42.5" y="1504.21" text-anchor="end" font-size="15.1" class="b">6</text>
<path d="M44.7 1412.7H53" stroke="#000" stroke-width="2.6"/>
<text x="42.5" y="1418.11" text-anchor="end" font-size="15.1" class="b">9</text>
<path d="M44.7 1326.6H53" stroke="#000" stroke-width="2.6"/>
<text x="42.5" y="1332.01" text-anchor="end" font-size="15.1" class="b">12</text>
<path d="M44.7 1240.5H53" stroke="#000" stroke-width="2.6"/>
<text x="42.5" y="1245.91" text-anchor="end" font-size="15.1" class="b">15</text>
<path d="M73.7 1671V1679.3" stroke="#000" stroke-width="2.6"/>
<text transform="translate(78.1 1692.5) rotate(-45)" text-anchor="end" font-size="15.1" class="b">EV</text>
<path d="M105.03 1671V1679.3" stroke="#000" stroke-width="2.6"/>
<text transform="translate(109.43 1692.5) rotate(-45)" text-anchor="end" font-size="15.1" class="b">22A6</text>
<path d="M136.36 1671V1679.3" stroke="#000" stroke-width="2.6"/>
<text transform="translate(140.76 1692.5) rotate(-45)" text-anchor="end" font-size="15.1" class="b">22A8</text>
<path d="M167.69 1671V1679.3" stroke="#000" stroke-width="2.6"/>
<text transform="translate(172.09 1692.5) rotate(-45)" text-anchor="end" font-size="15.1" class="b">22A9</text>
<path d="M199.02 1671V1679.3" stroke="#000" stroke-width="2.6"/>
<text transform="translate(203.42 1692.5) rotate(-45)" text-anchor="end" font-size="15.1" class="b">22A10</text>
<path d="M230.35 1671V1679.3" stroke="#000" stroke-width="2.6"/>
<text transform="translate(234.75 1692.5) rotate(-45)" text-anchor="end" font-size="15.1" class="b">22A11</text>
<path d="M261.68 1671V1679.3" stroke="#000" stroke-width="2.6"/>
<text transform="translate(266.08 1692.5) rotate(-45)" text-anchor="end" font-size="15.1" class="b">22A12</text>
<path d="M293.01 1671V1679.3" stroke="#000" stroke-width="2.6"/>
<text transform="translate(297.41 1692.5) rotate(-45)" text-anchor="end" font-size="15.1" class="b">22A24</text>
<path d="M324.34 1671V1679.3" stroke="#000" stroke-width="2.6"/>
<text transform="translate(328.74 1692.5) rotate(-45)" text-anchor="end" font-size="15.1" class="b">22A25</text>
<path d="M355.67 1671V1679.3" stroke="#000" stroke-width="2.6"/>
<text transform="translate(360.07 1692.5) rotate(-45)" text-anchor="end" font-size="15.1" class="b">hsOATP1B1</text>
<text transform="translate(15.9 1455) rotate(-90)" text-anchor="middle" font-size="17.6" class="b" textLength="155.6" lengthAdjust="spacing">Uptake (fold of EV)</text>
<text x="214.8" y="1211.4" text-anchor="middle" font-size="24.6" class="b" textLength="108" lengthAdjust="spacing">1nM T3S</text>
<text x="1.5" y="1219.4" font-size="34">C</text>
<text x="136.21" y="1281.5" text-anchor="middle" font-size="14.2" font-weight="bold" letter-spacing="1.1">****</text>
<text x="170.69" y="1523.3" text-anchor="middle" font-size="13.3" stroke="#000" stroke-width=".12">p=0.06</text>
<text x="355.52" y="1251.5" text-anchor="middle" font-size="14.2" font-weight="bold" letter-spacing="1.1">****</text>
</g>
<g>
<rect x="476.9" y="1602.4" width="18.4" height="61.6" fill="#fff" stroke="#000" stroke-width="2.05"/>
<rect x="508.23" y="1595.81" width="18.4" height="68.19" fill="#fff" stroke="#000" stroke-width="2.05"/>
<path d="M517.43 1595.81V1586.14M512.23 1586.14H522.63" stroke="#000" stroke-width="1.35" fill="none"/>
<rect x="539.56" y="1453.94" width="18.4" height="210.06" fill="#fff" stroke="#000" stroke-width="2.05"/>
<path d="M548.76 1453.94V1407.13M543.56 1407.13H553.96" stroke="#000" stroke-width="1.35" fill="none"/>
<rect x="570.89" y="1551.27" width="18.4" height="112.73" fill="#fff" stroke="#000" stroke-width="2.05"/>
<path d="M580.09 1551.27V1536.49M574.89 1536.49H585.29" stroke="#000" stroke-width="1.35" fill="none"/>
<rect x="602.22" y="1603.02" width="18.4" height="60.98" fill="#fff" stroke="#000" stroke-width="2.05"/>
<path d="M611.42 1603.02V1598.09M606.22 1598.09H616.62" stroke="#000" stroke-width="1.35" fill="none"/>
<rect x="633.55" y="1578.38" width="18.4" height="85.62" fill="#fff" stroke="#000" stroke-width="2.05"/>
<path d="M642.75 1578.38V1566.67M637.55 1566.67H647.95" stroke="#000" stroke-width="1.35" fill="none"/>
<rect x="664.88" y="1597.47" width="18.4" height="66.53" fill="#fff" stroke="#000" stroke-width="2.05"/>
<path d="M674.08 1597.47V1591.31M668.88 1591.31H679.28" stroke="#000" stroke-width="1.35" fill="none"/>
<rect x="696.21" y="1567.29" width="18.4" height="96.71" fill="#fff" stroke="#000" stroke-width="2.05"/>
<path d="M705.41 1567.29V1556.82M700.21 1556.82H710.61" stroke="#000" stroke-width="1.35" fill="none"/>
<rect x="727.54" y="1601.78" width="18.4" height="62.22" fill="#fff" stroke="#000" stroke-width="2.05"/>
<path d="M736.74 1601.78V1595.62M731.54 1595.62H741.94" stroke="#000" stroke-width="1.35" fill="none"/>
<rect x="758.87" y="1317.81" width="18.4" height="346.19" fill="#8c8c8c" stroke="#000" stroke-width="2.05"/>
<path d="M768.07 1317.81V1272.22M762.87 1272.22H773.27" stroke="#000" stroke-width="1.35" fill="none"/>
<line x1="466" y1="1603.2" x2="782" y2="1603.2" stroke="#000" stroke-width="1.5" stroke-dasharray="5.7 2.9" stroke-dashoffset="1.7"/>
<circle cx="477.8" cy="1602.5" r="2.05"/>
<circle cx="486.1" cy="1602.5" r="2.05"/>
<circle cx="494.4" cy="1602.5" r="2.05"/>
<circle cx="513.43" cy="1588.23" r="2.05"/>
<circle cx="521.43" cy="1591.93" r="2.05"/>
<circle cx="517.43" cy="1604.86" r="2.05"/>
<circle cx="548.76" cy="1400.35" r="2.05"/>
<circle cx="548.76" cy="1471.81" r="2.05"/>
<circle cx="548.76" cy="1487.21" r="2.05"/>
<circle cx="580.09" cy="1540.18" r="2.05"/>
<circle cx="580.09" cy="1545.73" r="2.05"/>
<circle cx="580.09" cy="1566.67" r="2.05"/>
<circle cx="611.42" cy="1598.09" r="2.05"/>
<circle cx="607.42" cy="1604.86" r="2.05"/>
<circle cx="615.42" cy="1603.63" r="2.05"/>
<circle cx="642.75" cy="1567.29" r="2.05"/>
<circle cx="642.75" cy="1577.14" r="2.05"/>
<circle cx="642.75" cy="1589.46" r="2.05"/>
<circle cx="674.08" cy="1590.08" r="2.05"/>
<circle cx="674.08" cy="1596.86" r="2.05"/>
<circle cx="674.08" cy="1601.78" r="2.05"/>
<circle cx="705.41" cy="1556.82" r="2.05"/>
<circle cx="705.41" cy="1567.29" r="2.05"/>
<circle cx="705.41" cy="1574.68" r="2.05"/>
<circle cx="736.74" cy="1595.62" r="2.05"/>
<circle cx="733.74" cy="1600.55" r="2.05"/>
<circle cx="739.74" cy="1601.78" r="2.05"/>
<circle cx="736.74" cy="1607.33" r="2.05"/>
<circle cx="768.07" cy="1279" r="2.05"/>
<circle cx="768.07" cy="1306.1" r="2.05"/>
<circle cx="768.07" cy="1365.86" r="2.05"/>
<path d="M465.3 1232.2V1665.3" stroke="#000" stroke-width="2.6" fill="none"/>
<path d="M457 1664H790" stroke="#000" stroke-width="2.6" fill="none"/>
<text x="454.8" y="1669.41" text-anchor="end" font-size="15.1" class="b">0</text>
<path d="M457 1602.5H465.3" stroke="#000" stroke-width="2.6"/>
<text x="454.8" y="1607.91" text-anchor="end" font-size="15.1" class="b">1</text>
<path d="M457 1541H465.3" stroke="#000" stroke-width="2.6"/>
<text x="454.8" y="1546.41" text-anchor="end" font-size="15.1" class="b">2</text>
<path d="M457 1479.5H465.3" stroke="#000" stroke-width="2.6"/>
<text x="454.8" y="1484.91" text-anchor="end" font-size="15.1" class="b">3</text>
<path d="M457 1418H465.3" stroke="#000" stroke-width="2.6"/>
<text x="454.8" y="1423.41" text-anchor="end" font-size="15.1" class="b">4</text>
<path d="M457 1356.5H465.3" stroke="#000" stroke-width="2.6"/>
<text x="454.8" y="1361.91" text-anchor="end" font-size="15.1" class="b">5</text>
<path d="M457 1295H465.3" stroke="#000" stroke-width="2.6"/>
<text x="454.8" y="1300.41" text-anchor="end" font-size="15.1" class="b">6</text>
<path d="M457 1233.5H465.3" stroke="#000" stroke-width="2.6"/>
<text x="454.8" y="1238.91" text-anchor="end" font-size="15.1" class="b">7</text>
<path d="M486.1 1664V1672.3" stroke="#000" stroke-width="2.6"/>
<text transform="translate(490.5 1685.5) rotate(-45)" text-anchor="end" font-size="15.1" class="b">EV</text>
<path d="M517.43 1664V1672.3" stroke="#000" stroke-width="2.6"/>
<text transform="translate(521.83 1685.5) rotate(-45)" text-anchor="end" font-size="15.1" class="b">22A6</text>
<path d="M548.76 1664V1672.3" stroke="#000" stroke-width="2.6"/>
<text transform="translate(553.16 1685.5) rotate(-45)" text-anchor="end" font-size="15.1" class="b">22A8</text>
<path d="M580.09 1664V1672.3" stroke="#000" stroke-width="2.6"/>
<text transform="translate(584.49 1685.5) rotate(-45)" text-anchor="end" font-size="15.1" class="b">22A9</text>
<path d="M611.42 1664V1672.3" stroke="#000" stroke-width="2.6"/>
<text transform="translate(615.82 1685.5) rotate(-45)" text-anchor="end" font-size="15.1" class="b">22A10</text>
<path d="M642.75 1664V1672.3" stroke="#000" stroke-width="2.6"/>
<text transform="translate(647.15 1685.5) rotate(-45)" text-anchor="end" font-size="15.1" class="b">22A11</text>
<path d="M674.08 1664V1672.3" stroke="#000" stroke-width="2.6"/>
<text transform="translate(678.48 1685.5) rotate(-45)" text-anchor="end" font-size="15.1" class="b">22A12</text>
<path d="M705.41 1664V1672.3" stroke="#000" stroke-width="2.6"/>
<text transform="translate(709.81 1685.5) rotate(-45)" text-anchor="end" font-size="15.1" class="b">22A24</text>
<path d="M736.74 1664V1672.3" stroke="#000" stroke-width="2.6"/>
<text transform="translate(741.14 1685.5) rotate(-45)" text-anchor="end" font-size="15.1" class="b">22A25</text>
<path d="M768.07 1664V1672.3" stroke="#000" stroke-width="2.6"/>
<text transform="translate(772.47 1685.5) rotate(-45)" text-anchor="end" font-size="15.1" class="b">hsOATP1B1</text>
<text transform="translate(436.3 1448) rotate(-90)" text-anchor="middle" font-size="17.6" class="b" textLength="155.6" lengthAdjust="spacing">Uptake (fold of EV)</text>
<text x="628" y="1205" text-anchor="middle" font-size="24.6" class="b" textLength="108" lengthAdjust="spacing">1nM T4S</text>
<text x="423.5" y="1211.8" font-size="34">D</text>
<text x="548.71" y="1394.2" text-anchor="middle" font-size="14.2" font-weight="bold" letter-spacing="1.1">****</text>
<text x="580.04" y="1529.9" text-anchor="middle" font-size="14.2" font-weight="bold" letter-spacing="1.1">*</text>
<text x="768.02" y="1266.6" text-anchor="middle" font-size="14.2" font-weight="bold" letter-spacing="1.1">****</text>
</g>
</svg></body></html>
